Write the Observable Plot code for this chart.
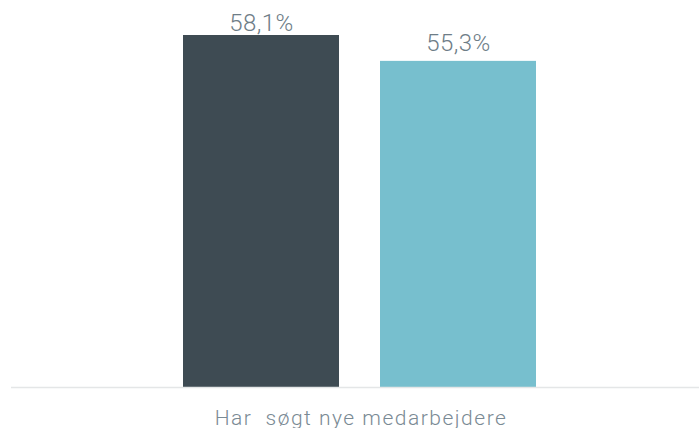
<!DOCTYPE html>
<html>
<head>
<meta charset="utf-8">
<script src="https://cdn.jsdelivr.net/npm/d3@7"></script>
<script src="https://cdn.jsdelivr.net/npm/@observablehq/plot@0.6"></script>
<style>
  html, body { margin: 0; padding: 0; background: #fff; }
  svg { display: block; }
</style>
</head>
<body>
<div id="chart"></div>
<script>
const categories = ["Har  søgt nye medarbejdere"];
const series = ["A", "B"];
const values = [58.1, 55.3];
const valueLabels = ["58,1%", "55,3%"];
const colors = ["#3e4b53", "#77bfce"];

const data = series.map((s, i) => ({series: s, value: values[i], label: valueLabels[i]}));

const chart = Plot.plot({
  width: 699,
  height: 428,
  marginTop: 35,
  marginBottom: 41,
  marginLeft: 11,
  marginRight: 0,
  style: {fontFamily: "Roboto", fontWeight: 300, background: "#fff"},
  x: {domain: series, range: [182, 537], paddingInner: 0.207, paddingOuter: 0, axis: null},
  y: {domain: [20, 58.1], clamp: true, axis: null},
  color: {domain: series, range: colors},
  marks: [
    Plot.barY(data, {x: "series", y: "value", fill: "series"}),
    Plot.ruleY([20], {stroke: "#e4e6e7", strokeWidth: 1.5}),
    Plot.text(data, {filter: (d, i) => i === 0, x: "series", y: "value", text: "label", lineAnchor: "bottom", dy: -5, fontSize: 24, fill: "#6e7d87"}),
    Plot.text(data, {filter: (d, i) => i === 1, x: "series", y: "value", text: "label", lineAnchor: "bottom", dy: -10, fontSize: 24, fill: "#6e7d87"}),
    Plot.text(categories, {frameAnchor: "bottom", text: d => d, lineAnchor: "bottom", dy: 37, dx: 5.5, fontSize: 21, fill: "#7a8a94"})
  ]
});
const textGroups = d3.select(chart).selectAll('g[aria-label="text"]').nodes();
d3.select(textGroups[0]).style("letter-spacing", "0.4px");
d3.select(textGroups[1]).style("letter-spacing", "0.4px");
d3.select(textGroups[2]).style("letter-spacing", "1.5px");
document.getElementById("chart").appendChild(chart);
</script>
</body>
</html>
